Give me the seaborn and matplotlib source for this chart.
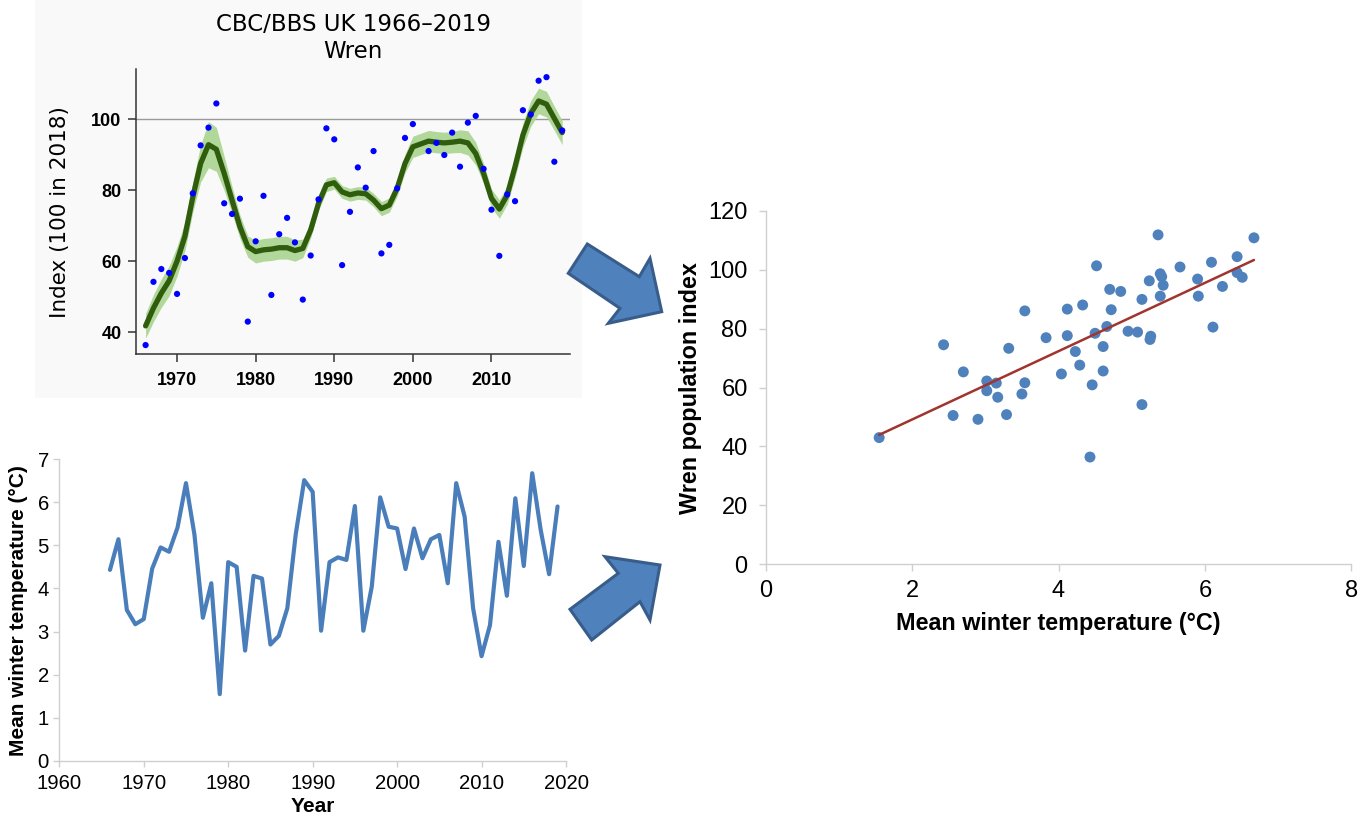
import numpy as np
import pandas as pd
import matplotlib
matplotlib.use("Agg")
import matplotlib.pyplot as plt
from matplotlib.patches import Polygon, Rectangle
import seaborn as sns

# ---------------- data ----------------
years = list(range(1966, 2020))

wren_index = [36.4, 54.2, 57.8, 56.7, 50.8, 60.9, 79.1, 92.6, 97.6, 104.4,
              76.3, 73.3, 77.6, 43.0, 65.6, 78.4, 50.5, 67.6, 72.2, 65.3,
              49.2, 61.6, 77.4, 97.4, 94.3, 58.9, 73.9, 86.4, 80.7, 91.0,
              62.2, 64.6, 80.5, 94.7, 98.6, np.nan, 91.0, 93.3, 89.9, 96.2,
              86.6, 99.0, 100.9, 86.0, 74.5, 61.5, 78.8, 76.9, 102.5, 101.3,
              110.8, 111.8, 88.0, 96.8]

wren_trend = [41.8, 46.8, 51.0, 54.5, 60.0, 67.0, 78.0, 87.5, 92.8, 91.5,
              84.7, 77.2, 69.7, 64.1, 62.7, 63.2, 63.4, 63.8, 63.8, 63.0,
              63.6, 68.8, 76.3, 81.5, 82.1, 79.5, 78.7, 79.2, 79.0, 77.2,
              74.8, 75.8, 80.5, 87.5, 92.2, 93.0, 93.8, 93.5, 93.3, 93.5,
              93.8, 93.3, 90.3, 84.7, 77.7, 74.7, 78.6, 86.6, 95.5, 101.6,
              105.1, 104.2, 100.2, 96.2]

trend_ci_half = [3.5, 3.8, 4.0, 4.2, 4.2, 4.0, 4.2, 5.2, 6.5, 6.2,
                 4.8, 3.8, 3.3, 3.0, 3.2, 3.2, 3.2, 3.2, 3.2, 3.0,
                 2.6, 2.2, 2.0, 1.9, 1.8, 1.8, 1.8, 1.8, 1.8, 1.9,
                 2.0, 2.0, 2.2, 2.6, 3.0, 3.0, 3.0, 3.0, 3.0, 3.0,
                 3.2, 3.4, 3.2, 2.8, 2.6, 2.6, 2.6, 3.0, 3.4, 3.6,
                 3.6, 3.6, 3.4, 3.4]

winter_temp = [4.43, 5.14, 3.50, 3.17, 3.29, 4.46, 4.95, 4.85, 5.41, 6.44,
               5.25, 3.32, 4.12, 1.55, 4.61, 4.50, 2.56, 4.29, 4.23, 2.70,
               2.90, 3.54, 5.26, 6.51, 6.24, 3.02, 4.61, 4.72, 4.66, 5.91,
               3.02, 4.04, 6.11, 5.43, 5.39, 4.45, 5.39, 4.70, 5.14, 5.24,
               4.12, 6.44, 5.66, 3.54, 2.43, 3.15, 5.08, 3.83, 6.09, 4.52,
               6.67, 5.36, 4.33, 5.90]

top_xticks = [1970, 1980, 1990, 2000, 2010]
top_yticks = [40, 60, 80, 100]
temp_xticks = [1960, 1970, 1980, 1990, 2000, 2010, 2020]
temp_yticks = [0, 1, 2, 3, 4, 5, 6, 7]
sc_xticks = [0, 2, 4, 6, 8]
sc_yticks = [0, 20, 40, 60, 80, 100, 120]

df = pd.DataFrame({"year": years, "index": wren_index, "trend": wren_trend,
                   "ci": trend_ci_half, "temp": winter_temp})
df["lo"] = df["trend"] - df["ci"]
df["hi"] = df["trend"] + df["ci"]
pairs = df.dropna(subset=["index"])

# ---------------- figure ----------------
sns.set_theme(style="white")
plt.rcParams["font.family"] = ["Liberation Sans", "DejaVu Sans"]

W, H = 1369, 817
fig = plt.figure(figsize=(W / 100, H / 100), dpi=100)
fig.patch.set_facecolor("white")


def px_axes(left, top, right, bottom):
    return [left / W, 1 - bottom / H, (right - left) / W, (bottom - top) / H]


# faint background of the top-left panel
fig.patches.append(Rectangle((35 / W, 1 - 398 / H), (582 - 35) / W, 398 / H,
                             transform=fig.transFigure, facecolor="#f9f9f9",
                             edgecolor="none", zorder=-5))

# ---- top-left: CBC/BBS index ----
ax1 = fig.add_axes(px_axes(136.4, 69, 570.3, 354.3))
ax1.set_facecolor("none")
ax1.axhline(100, color="#9a9a9a", lw=1.0, zorder=1)
ax1.fill_between(df["year"], df["lo"], df["hi"], color="#a9d590", alpha=0.9,
                 lw=0, zorder=2)
sns.lineplot(data=df, x="year", y="trend", ax=ax1, color="#305c0e", lw=3.8,
             zorder=3)
sns.scatterplot(data=df, x="year", y="index", ax=ax1, color="#0000ff", s=20,
                edgecolor="none", zorder=5)
ax1.set_xlim(1964.83, 2020.03)
ax1.set_ylim(33.8, 114.1)
ax1.set_xticks(top_xticks)
ax1.set_xticklabels([str(t) for t in top_xticks], fontweight="bold")
ax1.set_yticks(top_yticks)
ax1.set_yticklabels([str(t) for t in top_yticks], fontweight="bold")
ax1.tick_params(axis="both", direction="out", length=5.8, width=1.1,
                color="#333333", labelsize=13, labelcolor="black",
                bottom=True, left=True)
ax1.tick_params(axis="x", pad=7)
ax1.tick_params(axis="y", pad=5)
for s in ["top", "right"]:
    ax1.spines[s].set_visible(False)
for s in ["left", "bottom"]:
    ax1.spines[s].set_color("#333333")
    ax1.spines[s].set_linewidth(1.1)
ax1.set_xlabel("")
ax1.set_ylabel("Index (100 in 2018)", fontfamily="DejaVu Sans", fontsize=15.5,
               color="black")
ax1.yaxis.set_label_coords(-0.153, 0.5)
ax1.set_title("CBC/BBS UK 1966\u20132019\nWren", fontfamily="DejaVu Sans",
              fontsize=16.5, pad=8, linespacing=1.2, color="black")

# ---- bottom-left: winter temperature ----
ax2 = fig.add_axes(px_axes(59.3, 459, 566, 761))
sns.lineplot(data=df, x="year", y="temp", ax=ax2, color="#4a7ebb", lw=3.0)
ax2.set_xlim(1960, 2020)
ax2.set_ylim(0, 7)
ax2.set_xticks(temp_xticks)
ax2.set_yticks(temp_yticks)
ax2.tick_params(axis="both", direction="out", length=4.5, width=1.0,
                color="#cfcfcf", labelsize=14.6, labelcolor="black",
                bottom=True, left=True)
ax2.tick_params(axis="x", pad=5)
ax2.tick_params(axis="y", pad=3)
for s in ["top", "right"]:
    ax2.spines[s].set_visible(False)
for s in ["left", "bottom"]:
    ax2.spines[s].set_color("#cfcfcf")
    ax2.spines[s].set_linewidth(1.0)
ax2.set_xlabel("Year", fontweight="bold", fontsize=15, color="black")
ax2.set_ylabel("Mean winter temperature (\u00b0C)", fontweight="bold",
               fontsize=15, color="black")
ax2.xaxis.set_label_coords(0.5, -0.119)
ax2.yaxis.set_label_coords(-0.0612, 0.497)

# ---- right: scatter with regression ----
ax3 = fig.add_axes(px_axes(765.7, 210.7, 1351.3, 564.3))
sns.regplot(data=pairs, x="temp", y="index", ax=ax3, ci=None,
            scatter_kws=dict(s=62, color="#4f81bd", edgecolor="none",
                             alpha=1.0, zorder=3),
            line_kws=dict(color="#a0342f", lw=1.8, zorder=4))
ax3.set_xlim(0, 8)
ax3.set_ylim(0, 120)
ax3.set_xticks(sc_xticks)
ax3.set_yticks(sc_yticks)
ax3.tick_params(axis="both", direction="out", length=5, width=1.0,
                color="#cfcfcf", labelsize=17, labelcolor="black",
                bottom=True, left=True)
ax3.tick_params(axis="x", pad=6)
ax3.tick_params(axis="y", pad=8)
for s in ["top", "right"]:
    ax3.spines[s].set_visible(False)
for s in ["left", "bottom"]:
    ax3.spines[s].set_color("#cfcfcf")
    ax3.spines[s].set_linewidth(1.0)
ax3.set_xlabel("Mean winter temperature (\u00b0C)", fontweight="bold",
               fontsize=16.8, color="black")
ax3.set_ylabel("Wren population index", fontweight="bold", fontsize=16.8,
               color="black")
ax3.xaxis.set_label_coords(0.4997, -0.134)
ax3.yaxis.set_label_coords(-0.109, 0.499)

# ---- block arrows (decoration) ----
arrow_upper = [(587.3, 244), (639.3, 276.7), (650, 258.3), (661.7, 311.7),
               (608.3, 323.3), (620, 308.3), (568.3, 273.3)]
arrow_lower = [(570, 609.3), (618.3, 573.3), (605, 556.7), (660, 565),
               (650, 620), (640, 601.7), (591.7, 640)]
for shape in (arrow_upper, arrow_lower):
    pts = [(x / W, 1 - y / H) for x, y in shape]
    fig.patches.append(Polygon(pts, closed=True, transform=fig.transFigure,
                               facecolor="#4f81bd", edgecolor="#385d8a",
                               lw=2.2, joinstyle="miter", zorder=5))

fig.savefig("out.png", dpi=100, facecolor="white")
